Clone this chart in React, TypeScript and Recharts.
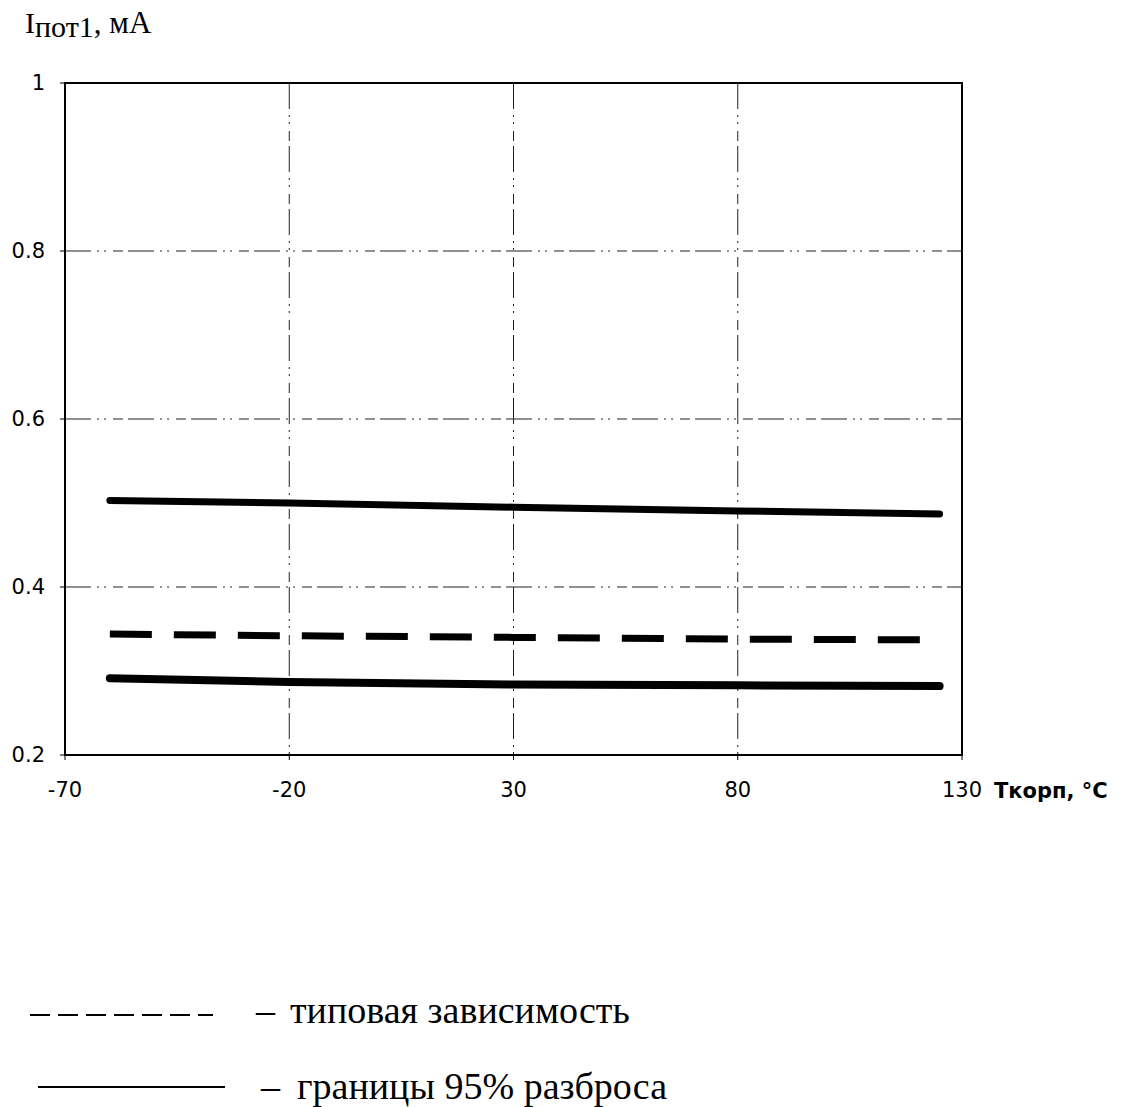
import React from 'react';
import { LineChart, Line, XAxis, YAxis, CartesianGrid, ReferenceArea } from 'recharts';

const temperatures = [-60, -20, 30, 80, 125];
const upperBound = [0.503, 0.5, 0.495, 0.4905, 0.487];
const typicalCurve = [0.344, 0.342, 0.34, 0.338, 0.337];
const lowerBound = [0.2915, 0.287, 0.284, 0.283, 0.282];
const xTicks = [-70, -20, 30, 80, 130];
const yTicks = [0.2, 0.4, 0.6, 0.8, 1];

const legendTypical = 'типовая зависимость';
const legendBounds = 'границы 95% разброса';

const data = temperatures.map((t, i) => ({
  t,
  upper: upperBound[i],
  typical: typicalCurve[i],
  lower: lowerBound[i],
}));

const W = 1124;
const H = 1107;

export default function App() {
  return (
    <div style={{ position: 'absolute', left: 0, top: 0, width: W, height: H, background: '#fff' }}>
      <LineChart
        width={W}
        height={H}
        data={data}
        margin={{ top: 83, right: 162, bottom: 0, left: 0 }}
      >
        <CartesianGrid
          stroke="#222"
          strokeWidth={1}
          strokeDasharray="26 6 2 5 2 7 10 5"
        />
        <XAxis
          dataKey="t"
          type="number"
          domain={[-70, 130]}
          ticks={xTicks}
          height={352}
          axisLine={{ stroke: '#000', strokeWidth: 2 }}
          tickLine={{ stroke: '#000', strokeWidth: 1 }}
          tickSize={5}
          tickMargin={22}
          tick={{ fill: '#000', fontSize: 21, fontFamily: 'DejaVu Sans' }}
          interval={0}
        />
        <YAxis
          type="number"
          domain={[0.2, 1]}
          ticks={yTicks}
          width={65}
          axisLine={{ stroke: '#000', strokeWidth: 2 }}
          tickLine={{ stroke: '#000', strokeWidth: 1 }}
          tickSize={5}
          tickMargin={15}
          tick={{ fill: '#000', fontSize: 21, fontFamily: 'DejaVu Sans' }}
          tickFormatter={(v: number) => (v === 1 ? '1' : v.toFixed(1))}
          interval={0}
        />
        <ReferenceArea
          x1={-70}
          x2={130}
          y1={0.2}
          y2={1}
          fill="none"
          fillOpacity={0}
          stroke="#000"
          strokeWidth={2}
          ifOverflow="visible"
        />
        <Line
          dataKey="upper"
          stroke="#000"
          strokeWidth={7}
          strokeLinecap="round"
          dot={false}
          isAnimationActive={false}
          type="linear"
        />
        <Line
          dataKey="typical"
          stroke="#000"
          strokeWidth={7}
          strokeDasharray="42 22"
          strokeLinecap="butt"
          dot={false}
          isAnimationActive={false}
          type="linear"
        />
        <Line
          dataKey="lower"
          stroke="#000"
          strokeWidth={8}
          strokeLinecap="round"
          dot={false}
          isAnimationActive={false}
          type="linear"
        />
      </LineChart>
      <svg
        width={W}
        height={H}
        style={{ position: 'absolute', left: 0, top: 0, pointerEvents: 'none' }}
      >
        <text x={25} y={33} fontFamily="Liberation Serif" fontSize={30} fill="#000">
          I
          <tspan fontSize={30} dy={4}>пот1</tspan>
          <tspan fontSize={31} dy={-4}>, мА</tspan>
        </text>
        <text x={994} y={798} fontFamily="DejaVu Sans" fontWeight="bold" fontSize={21} fill="#000">
          Ткорп, °С
        </text>
        <line x1={30} y1={1015} x2={213} y2={1015} stroke="#000" strokeWidth={2} strokeDasharray="20 8" />
        <text x={256} y={1023} fontFamily="Liberation Serif" fontSize={38} fill="#000">–</text>
        <text x={290} y={1023} fontFamily="Liberation Serif" fontSize={38} fill="#000">{legendTypical}</text>
        <line x1={38} y1={1087} x2={225} y2={1087} stroke="#000" strokeWidth={2} />
        <text x={261} y={1099} fontFamily="Liberation Serif" fontSize={38} fill="#000">–</text>
        <text x={297} y={1099} fontFamily="Liberation Serif" fontSize={38} fill="#000">{legendBounds}</text>
      </svg>
    </div>
  );
}
